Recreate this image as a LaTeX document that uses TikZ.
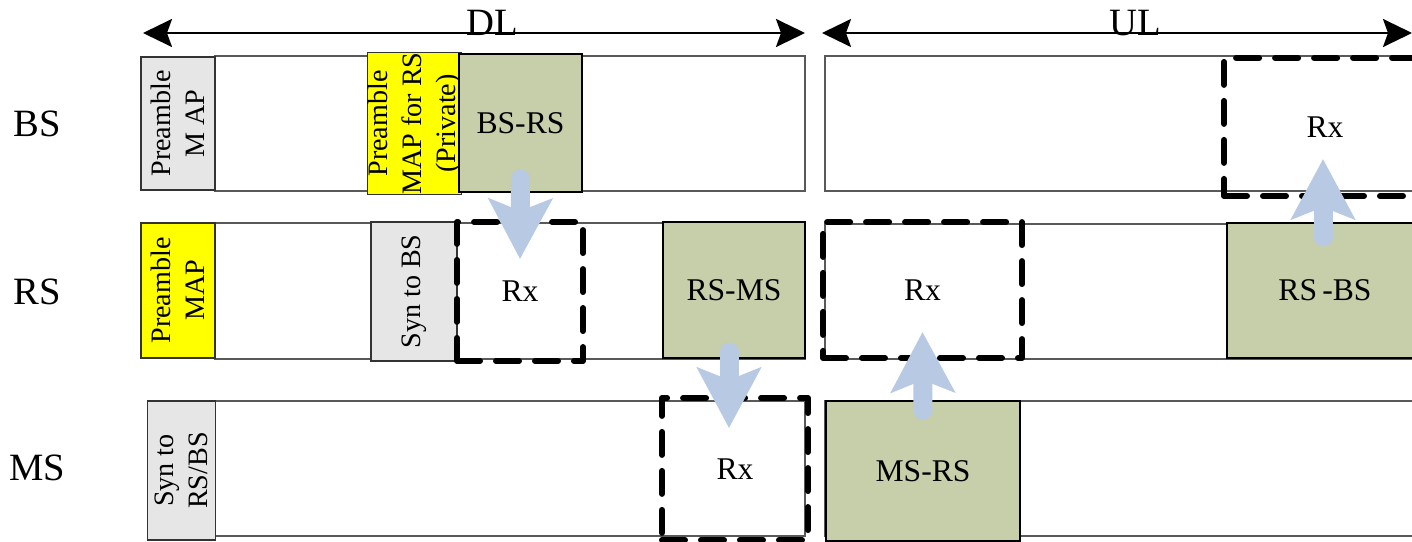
\documentclass[tikz,border=0pt]{standalone}
\usepackage{fontspec}
\setmainfont{Liberation Serif}
\usepackage{tikz}
\usetikzlibrary{arrows.meta}

\definecolor{linkgreen}{RGB}{198,206,170}
\definecolor{boxgray}{RGB}{230,230,230}
\definecolor{mapyellow}{RGB}{255,255,0}
\definecolor{flowblue}{RGB}{184,201,227}
\newlength{\unitpx}\setlength{\unitpx}{0.02cm}

\begin{document}
\begin{tikzpicture}[x=0.02cm,y=-0.02cm,
    frame/.style={draw=black!65, line width=0.6pt, fill=white, inner sep=0pt},
    ctrl/.style={draw=black!80, line width=0.6pt, inner sep=0pt, rotate=90, align=center, font=\fontsize{16}{19.5}\selectfont},
    burst/.style={draw=black, line width=0.6pt, fill=linkgreen, inner sep=0pt, font=\fontsize{18}{21}\selectfont},
    rxbox/.style={draw=black, line width=0.12cm, dash pattern=on 0.46cm off 0.32cm, line cap=round, line join=round, inner sep=0pt, font=\fontsize{18}{21}\selectfont},
    rowlabel/.style={font=\fontsize{22}{25}\selectfont},
    span/.style={line width=0.05cm, {Stealth[length=0.58cm,width=0.56cm,inset=0.1cm]}-{Stealth[length=0.58cm,width=0.56cm,inset=0.1cm]}},
    flow/.style={draw=flowblue, line width=0.38cm, line cap=round, -{Stealth[length=1.2cm,width=1.26cm,inset=0.24cm]}}]
  \useasboundingbox (0,0) rectangle (1412,541);
      % row labels
      \node[rowlabel](bs)  at (37,124) {BS};
      \node[rowlabel](rs)  at (37,292) {RS};
      \node[rowlabel](ms)  at (37,468) {MS};
      % DL / UL spans
      \coordinate (dlL) at (143,33);
      \coordinate (dlR) at (805,33);
      \coordinate (ulL) at (822,33);
      \coordinate (ulR) at (1412,33);
      \draw[span] (dlL) -- (dlR);
      \draw[span] (ulL) -- (ulR);
      \node[rowlabel, anchor=base](dl)  at (492,35) {DL};
      \node[rowlabel, anchor=base](ul)  at (1135,35) {UL};
      % frames
      \node[frame, minimum width=590\unitpx, minimum height=135\unitpx](bsdl)  at (510,123.5) {};
      \node[frame, minimum width=605\unitpx, minimum height=135\unitpx](bsul)  at (1127.5,123.5) {};
      \node[frame, minimum width=590\unitpx, minimum height=136\unitpx](rsdl)  at (510,291) {};
      \node[frame, minimum width=605\unitpx, minimum height=135\unitpx](rsul)  at (1127.5,291.5) {};
      \node[frame, minimum width=590\unitpx, minimum height=135\unitpx](msdl)  at (510,468.5) {};
      \node[frame, minimum width=605\unitpx, minimum height=135\unitpx](msul)  at (1127.5,468.5) {};
      % control slots
      \node[ctrl, fill=boxgray, minimum width=133\unitpx, minimum height=74\unitpx](bspre)  at (178,123.5) {Preamble\\M AP};
      \node[ctrl, fill=mapyellow, minimum width=135\unitpx, minimum height=87\unitpx](bsmap)  at (414.5,123.5) {Preamble\\MAP for RS\\(Private)};
      \node[ctrl, fill=mapyellow, minimum width=135\unitpx, minimum height=74\unitpx](rspre)  at (178,290.5) {Preamble\\MAP};
      \node[ctrl, fill=boxgray, minimum width=139\unitpx, minimum height=86\unitpx](rssyn)  at (414,291.5) {Syn to BS};
      \node[ctrl, fill=boxgray, minimum width=139\unitpx, minimum height=68\unitpx](mssyn)  at (181.5,470.5) {Syn to\\RS/BS};
      % bursts
      \node[burst, minimum width=123\unitpx, minimum height=138\unitpx](bsrs)  at (520.5,123) {BS-RS};
      \node[burst, minimum width=142\unitpx, minimum height=136\unitpx](rsms)  at (734,290) {RS-MS};
      \node[burst, minimum width=196\unitpx, minimum height=135\unitpx](rsbs)  at (1325,290.5) {RS\,-BS};
      \node[burst, minimum width=194\unitpx, minimum height=140\unitpx](msrs)  at (923,471) {MS-RS};
      % receive windows
      \node[rxbox, minimum width=126\unitpx, minimum height=139\unitpx](rsrx)  at (520,291.5) {Rx};
      \node[rxbox, minimum width=146\unitpx, minimum height=142\unitpx](msrx)  at (735,469) {Rx};
      \node[rxbox, minimum width=199\unitpx, minimum height=136\unitpx](rsrxul)  at (922.5,290) {Rx};
      \node[rxbox, minimum width=202\unitpx, minimum height=138\unitpx](bsrx)  at (1325,127) {Rx};
      % flows
      \draw[flow] ([yshift=13.5\unitpx]bsrs.south) -- ([yshift=-40\unitpx]rsrx.north);
      \draw[flow] ([xshift=-5\unitpx,yshift=6.5\unitpx]rsms.south) -- ([xshift=-6\unitpx,yshift=-33\unitpx]msrx.north);
      \draw[flow] ([yshift=-9.5\unitpx]msrs.north) -- ([yshift=29\unitpx]rsrxul.south);
      \draw[flow] ([xshift=-2\unitpx,yshift=-14.5\unitpx]rsbs.north) -- ([xshift=-2\unitpx,yshift=40\unitpx]bsrx.south);
\end{tikzpicture}
\end{document}
